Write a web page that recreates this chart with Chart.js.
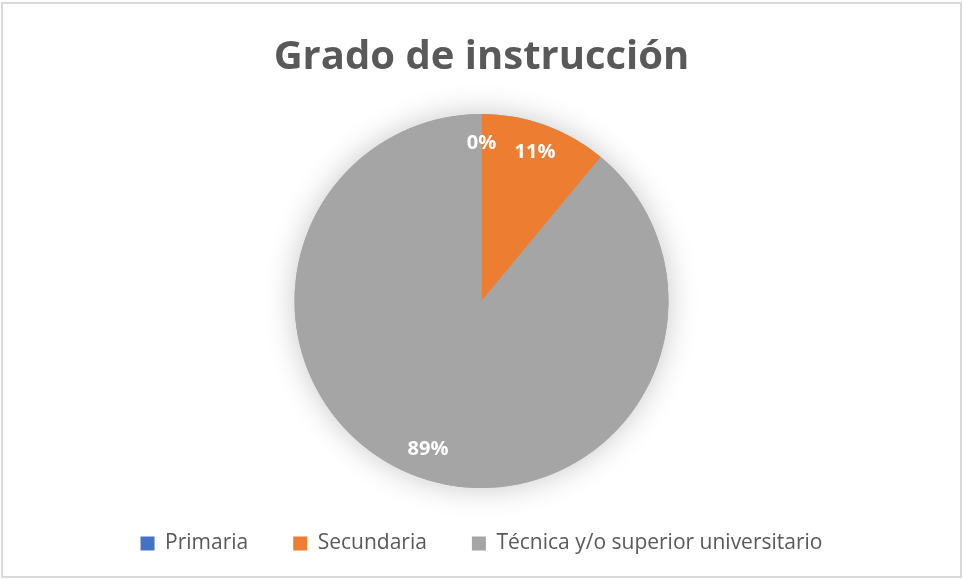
<!DOCTYPE html>
<html><head><meta charset="utf-8">
<script src="https://cdn.jsdelivr.net/npm/chart.js@4"></script>
<style>html,body{margin:0;padding:0;background:#fff}#wrap{width:963px;height:579px}</style>
</head><body><div id="wrap"><canvas id="c" width="963" height="579"></canvas></div>
<script>
const categories = ["Primaria", "Secundaria", "Técnica y/o superior universitario"];
const values = [0, 11, 89];
const labelsText = ["0%", "11%", "89%"];
const colors = ["#4472C4", "#ED7D31", "#A5A5A5"];
const titleText = "Grado de instrucción";
const FONT = "'Open Sans', Lato, sans-serif";

const borderPlugin = {
  id: 'border',
  beforeDraw(chart) {
    const ctx = chart.ctx;
    ctx.save();
    ctx.fillStyle = '#fff';
    ctx.fillRect(0, 0, chart.width, chart.height);
    ctx.strokeStyle = '#d9d9d9';
    ctx.lineWidth = 2;
    ctx.strokeRect(2, 3, 959, 574);
    ctx.restore();
  }
};
const shadowPlugin = {
  id: 'shadow',
  beforeDatasetsDraw(chart) {
    const arc = chart.getDatasetMeta(0).data[0];
    if (!arc) return;
    const ctx = chart.ctx;
    ctx.save();
    ctx.shadowColor = 'rgba(0,0,0,0.22)';
    ctx.shadowBlur = 30;
    ctx.fillStyle = '#A5A5A5';
    ctx.beginPath();
    ctx.arc(arc.x, arc.y, arc.outerRadius, 0, Math.PI * 2);
    ctx.fill();
    ctx.restore();
  }
};
const labelPlugin = {
  id: 'pctLabels',
  afterDatasetsDraw(chart) {
    const meta = chart.getDatasetMeta(0);
    const ctx = chart.ctx;
    ctx.save();
    ctx.fillStyle = '#fff';
    ctx.font = "bold 20px " + FONT;
    ctx.textAlign = 'center';
    ctx.textBaseline = 'middle';
    meta.data.forEach((arc, i) => {
      const mid = (arc.startAngle + arc.endAngle) / 2;
      const d = arc.outerRadius * 0.845;
      ctx.fillText(labelsText[i], arc.x + Math.cos(mid) * d, arc.y + Math.sin(mid) * d);
    });
    ctx.restore();
  }
};

new Chart(document.getElementById('c'), {
  type: 'pie',
  data: {
    labels: categories,
    datasets: [{ data: values, backgroundColor: colors, borderWidth: 0 }]
  },
  options: {
    responsive: false,
    animation: false,
    layout: { padding: { top: 0, bottom: 15, left: 0, right: 0 } },
    plugins: {
      title: {
        display: true, text: titleText, color: '#595959',
        font: { family: FONT, size: 40, weight: 'bold', lineHeight: 1.2 },
        padding: { top: 34, bottom: 32 }
      },
      legend: {
        position: 'bottom',
        labels: {
          color: '#595959', font: { family: FONT, size: 21 },
          boxWidth: 14, boxHeight: 14, padding: 45
        }
      },
      tooltip: { enabled: false }
    }
  },
  plugins: [borderPlugin, shadowPlugin, labelPlugin]
});
</script></body></html>
